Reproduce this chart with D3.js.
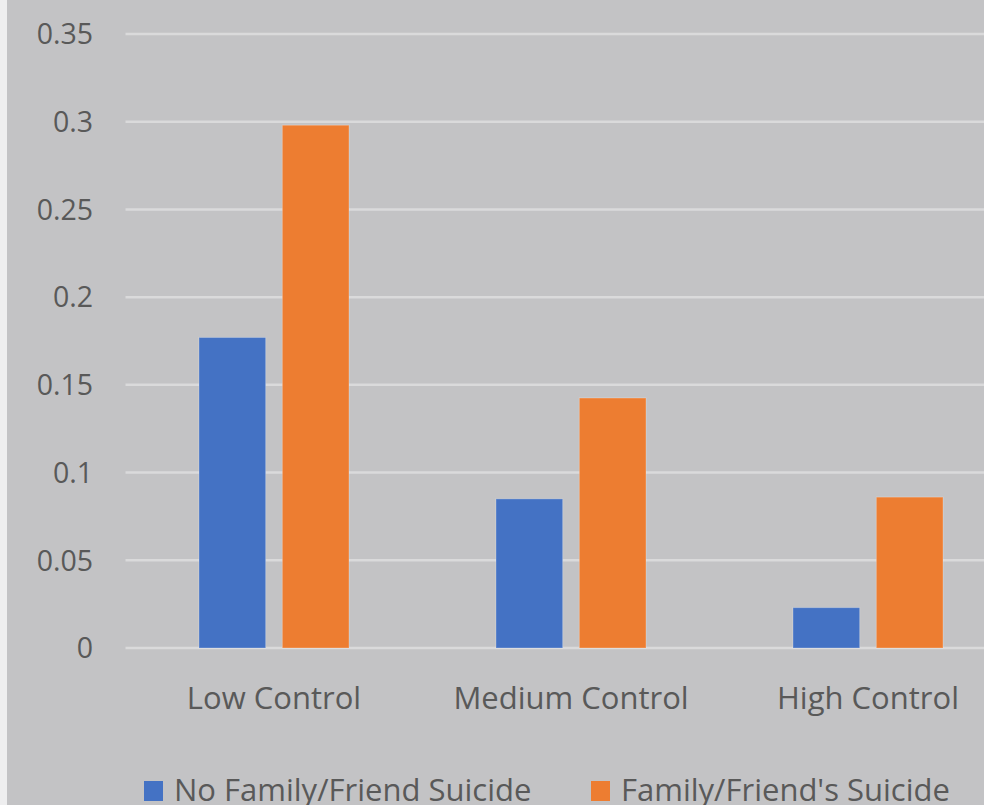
<!DOCTYPE html>
<html>
<head>
<meta charset="utf-8">
<script src="https://cdn.jsdelivr.net/npm/d3@7"></script>
<style>
  body { margin: 0; background: #c3c3c5; overflow: hidden; }
  text { font-family: "Open Sans", sans-serif; fill: #595959; }
</style>
</head>
<body>
<div id="chart"></div>
<script>
/* DATA */
const categories = ["Low Control", "Medium Control", "High Control"];
const seriesNames = ["No Family/Friend Suicide", "Family/Friend's Suicide"];
const noSuicide = [0.177, 0.085, 0.023];
const withSuicide = [0.298, 0.1425, 0.086];
const yTicks = [0, 0.05, 0.1, 0.15, 0.2, 0.25, 0.3, 0.35];
const yTickLabels = ["0", "0.05", "0.1", "0.15", "0.2", "0.25", "0.3", "0.35"];

/* SET UP */
const w = 984;
const h = 805;
const m = { top: 34, left: 125.5, bottom: 648 };
const colors = ["#4472c4", "#ed7d31"];

const svg = d3
	.select("#chart")
	.append("svg")
	.attr("width", w)
	.attr("height", h);

// light strip on the left edge
svg.append("rect")
	.attr("x", 0).attr("y", 0)
	.attr("width", 7).attr("height", h)
	.attr("fill", "#eeeeef");

const x = d3.scaleBand()
	.domain(categories)
	.range([m.left, m.left + 297 * 3])
	.paddingInner(0)
	.paddingOuter(0);

const x1 = d3.scaleBand()
	.domain([0, 1])
	.range([0, 150])
	.paddingInner(0.2);

const y = d3.scaleLinear()
	.domain([0, 0.35])
	.range([m.bottom, m.top]);

// gridlines
svg.append("g")
	.selectAll("line")
	.data(yTicks)
	.join("line")
	.attr("x1", m.left)
	.attr("x2", w)
	.attr("y1", (d) => y(d))
	.attr("y2", (d) => y(d))
	.attr("stroke", "#dadadb")
	.attr("stroke-width", 2.5);

// y tick labels
svg.append("g")
	.selectAll("text")
	.data(yTicks)
	.join("text")
	.attr("x", 93)
	.attr("y", (d) => y(d))
	.attr("dy", "0.36em")
	.attr("text-anchor", "end")
	.attr("font-size", 28.5)
	.text((d, i) => yTickLabels[i]);

// bars
const rows = categories.map((c, i) => ({ cat: c, vals: [noSuicide[i], withSuicide[i]] }));
const groups = svg.append("g")
	.selectAll("g")
	.data(rows)
	.join("g")
	.attr("transform", (d) => `translate(${x(d.cat) + (x.bandwidth() - 150) / 2},0)`);

groups.selectAll("rect")
	.data((d) => d.vals.map((v, j) => ({ v, j })))
	.join("rect")
	.attr("x", (d) => x1(d.j))
	.attr("width", x1.bandwidth())
	.attr("y", (d) => y(d.v))
	.attr("height", (d) => y(0) - y(d.v))
	.attr("fill", (d) => colors[d.j])
	.attr("stroke", "#ffffff")
	.attr("stroke-opacity", 0.25)
	.attr("stroke-width", 1);

// x labels
svg.append("g")
	.selectAll("text")
	.data(categories)
	.join("text")
	.attr("x", (d) => x(d) + x.bandwidth() / 2)
	.attr("y", 709)
	.attr("text-anchor", "middle")
	.attr("font-size", 31)
	.text((d) => d);

// legend
const legendX = [144, 591];
const legend = svg.append("g")
	.selectAll("g")
	.data(seriesNames)
	.join("g")
	.attr("transform", (d, i) => `translate(${legendX[i]},0)`);

legend.append("rect")
	.attr("x", 0).attr("y", 781)
	.attr("width", 19).attr("height", 20)
	.attr("fill", (d, i) => colors[i]);

legend.append("text")
	.attr("x", 30)
	.attr("y", 801)
	.attr("font-size", 31)
	.text((d) => d);
</script>
</body>
</html>
